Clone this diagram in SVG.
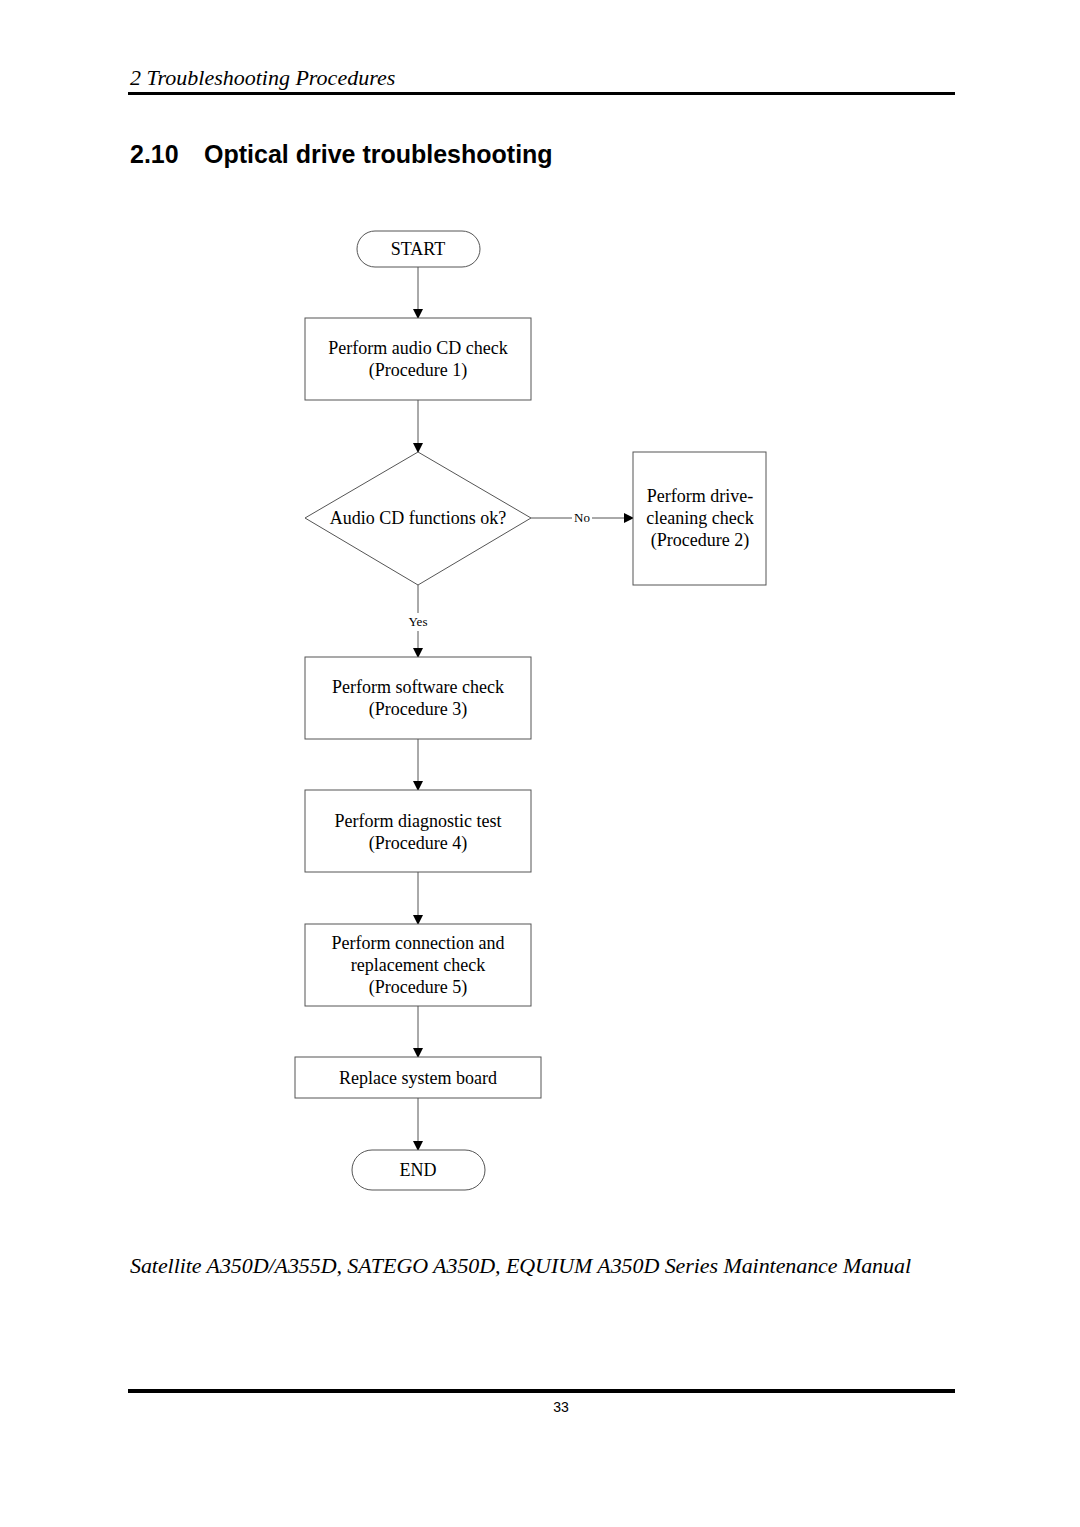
<svg xmlns="http://www.w3.org/2000/svg" width="1080" height="1527" viewBox="0 0 1080 1527">
<defs>
<marker id="arr" markerWidth="10" markerHeight="10" refX="9" refY="5" orient="auto" markerUnits="userSpaceOnUse">
<path d="M0,0 L10,5 L0,10 Z" fill="#000"/>
</marker>
<style>
.shape{fill:#fff;stroke:#555;stroke-width:1}
.conn{stroke:#555;stroke-width:1;fill:none}
.t{font-family:"Liberation Serif","Times New Roman",serif;font-size:18px;fill:#000;text-anchor:middle}
.small{font-family:"Liberation Serif","Times New Roman",serif;font-size:13px;fill:#000;text-anchor:middle}
.hdr{font-family:"Liberation Serif","Times New Roman",serif;font-style:italic;font-size:22px;fill:#000}
.title{font-family:"Liberation Sans",Arial,sans-serif;font-weight:bold;font-size:25px;fill:#000}
</style>
</defs>
<rect width="1080" height="1527" fill="#fff"/>
<text class="hdr" x="130" y="85">2 Troubleshooting Procedures</text>
<rect x="128" y="92" width="827" height="3" fill="#000"/>
<text class="title" x="130" y="163">2.10</text>
<text class="title" x="204" y="163">Optical drive troubleshooting</text>

<g id="connectors">
<line class="conn" x1="418" y1="267" x2="418" y2="318" marker-end="url(#arr)"/>
<line class="conn" x1="418" y1="400" x2="418" y2="452" marker-end="url(#arr)"/>
<line class="conn" x1="531" y1="518" x2="572" y2="518"/>
<line class="conn" x1="592" y1="518" x2="633" y2="518" marker-end="url(#arr)"/>
<text class="small" x="582" y="522">No</text>
<line class="conn" x1="418" y1="585" x2="418" y2="613"/>
<line class="conn" x1="418" y1="631" x2="418" y2="657" marker-end="url(#arr)"/>
<text class="small" x="418" y="626">Yes</text>
<line class="conn" x1="418" y1="739" x2="418" y2="790" marker-end="url(#arr)"/>
<line class="conn" x1="418" y1="872" x2="418" y2="924" marker-end="url(#arr)"/>
<line class="conn" x1="418" y1="1006" x2="418" y2="1057" marker-end="url(#arr)"/>
<line class="conn" x1="418" y1="1098" x2="418" y2="1150" marker-end="url(#arr)"/>
</g>

<g id="start">
<rect class="shape" x="357" y="231" width="123" height="36" rx="18" ry="18"/>
<text class="t" x="418" y="255">START</text>
</g>
<g id="proc1">
<rect class="shape" x="305" y="318" width="226" height="82"/>
<text class="t" x="418" y="354">Perform audio CD check</text>
<text class="t" x="418" y="376">(Procedure 1)</text>
</g>
<g id="decision">
<polygon class="shape" points="418,452 531,518 418,585 305,518"/>
<text class="t" x="418" y="524">Audio CD functions ok?</text>
</g>
<g id="proc2">
<rect class="shape" x="633" y="452" width="133" height="133"/>
<text class="t" x="700" y="502">Perform drive-</text>
<text class="t" x="700" y="524">cleaning check</text>
<text class="t" x="700" y="546">(Procedure 2)</text>
</g>
<g id="proc3">
<rect class="shape" x="305" y="657" width="226" height="82"/>
<text class="t" x="418" y="693">Perform software check</text>
<text class="t" x="418" y="715">(Procedure 3)</text>
</g>
<g id="proc4">
<rect class="shape" x="305" y="790" width="226" height="82"/>
<text class="t" x="418" y="827">Perform diagnostic test</text>
<text class="t" x="418" y="849">(Procedure 4)</text>
</g>
<g id="proc5">
<rect class="shape" x="305" y="924" width="226" height="82"/>
<text class="t" x="418" y="949">Perform connection and</text>
<text class="t" x="418" y="971">replacement check</text>
<text class="t" x="418" y="993">(Procedure 5)</text>
</g>
<g id="replace">
<rect class="shape" x="295" y="1057" width="246" height="41"/>
<text class="t" x="418" y="1084">Replace system board</text>
</g>
<g id="end">
<rect class="shape" x="352" y="1150" width="133" height="40" rx="20" ry="20"/>
<text class="t" x="418" y="1176">END</text>
</g>

<text class="hdr" x="130" y="1273" textLength="781">Satellite A350D/A355D, SATEGO A350D, EQUIUM A350D Series Maintenance Manual</text>
<rect x="128" y="1389" width="827" height="4" fill="#000"/>
<text x="561" y="1412" font-family="'Liberation Sans Narrow','Liberation Sans',Arial,sans-serif" font-size="14" text-anchor="middle" fill="#000">33</text>
</svg>
